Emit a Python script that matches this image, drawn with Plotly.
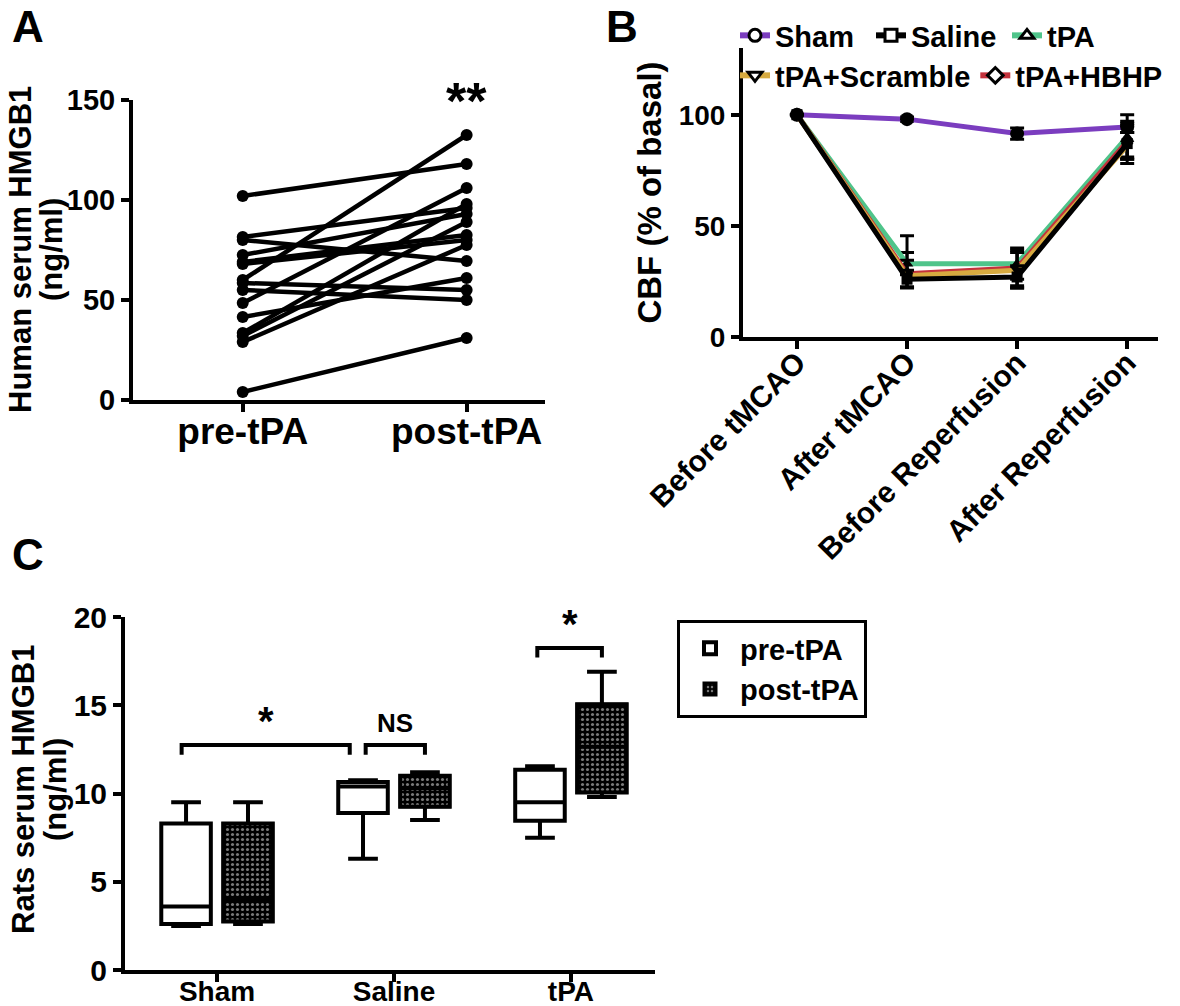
import plotly.graph_objects as go

# ---- panel A: paired human serum HMGB1 (ng/ml)
a_labels = ["pre-tPA", "post-tPA"]
a_pre = [102, 81.5, 80, 72.5, 69, 68, 60, 58.5, 55, 48.5, 41.5, 33.5, 32, 29, 4]
a_post = [118, 96, 69.5, 93, 82.5, 80, 132.5, 55, 50, 106, 61, 98, 89, 77.5, 31]

# ---- panel B: CBF (% of basal)
b_stages = ["Before tMCAO", "After tMCAO", "Before Reperfusion", "After Reperfusion"]
sham_cbf = [100, 98, 91.5, 94.5]
sham_err = [0, 1, 2.5, 2.5]
saline_cbf = [100, 26, 27, 87]
saline_err = [0, 4, 5, 9]
tpa_cbf = [100, 33, 33, 90]
tpa_err = [0, 5, 7, 10]
scramble_cbf = [100, 27.5, 30, 86]
scramble_err_up = [0, 18, 8, 6]
scramble_err_dn = [0, 5, 8, 6]
hbhp_cbf = [100, 28.5, 31, 88]
hbhp_err = [0, 6, 8, 7]

# ---- panel C: rat serum HMGB1 box plots
c_groups = ["Sham", "Saline", "tPA"]
pre_lo = [2.5, 6.3, 7.5]
pre_q1 = [2.6, 8.9, 8.45]
pre_med = [3.6, 10.4, 9.5]
pre_q3 = [8.3, 10.65, 11.35]
pre_hi = [9.5, 10.75, 11.55]
post_lo = [2.6, 8.5, 9.8]
post_q1 = [2.75, 9.25, 10.05]
post_med = [4.0, 10.3, 12.65]
post_q3 = [8.3, 11.0, 15.05]
post_hi = [9.5, 11.2, 16.9]

FONT = "Liberation Sans, Arial, sans-serif"
W, H = 1180, 1006

SHAM_C = "#7b3dbf"
TPA_C = "#4fc48a"
SCR_C = "#d6aa40"
HBHP_C = "#c4323c"

fig = go.Figure()

# A
for pre, post in zip(a_pre, a_post):
    fig.add_trace(go.Scatter(
        x=a_labels, y=[pre, post], mode="lines+markers",
        line=dict(color="black", width=4.5),
        marker=dict(color="black", size=12),
        showlegend=False, xaxis="x", yaxis="y"))

# B (plot traces, black markers)
b_series = [
    ("Sham", sham_cbf, sham_err, sham_err, SHAM_C, "circle"),
    ("tPA", tpa_cbf, tpa_err, tpa_err, TPA_C, "triangle-up"),
    ("tPA+HBHP", hbhp_cbf, hbhp_err, hbhp_err, HBHP_C, "diamond"),
    ("tPA+Scramble", scramble_cbf, scramble_err_up, scramble_err_dn, SCR_C, "triangle-down"),
    ("Saline", saline_cbf, saline_err, saline_err, "black", "square"),
]
for name, vals, eu, ed, col, sym in b_series:
    fig.add_trace(go.Scatter(
        x=b_stages, y=vals, mode="lines+markers", name=name,
        line=dict(color=col, width=5),
        marker=dict(color="black", size=14 if sym == "circle" else 11, symbol=sym),
        error_y=dict(type="data", array=eu, arrayminus=ed, color="black",
                     thickness=3, width=7),
        showlegend=False, xaxis="x2", yaxis="y2"))

# B legend entries (open markers, as in the original key)
legend_rows = [
    ("Sham", SHAM_C, "circle", "legend"),
    ("Saline", "black", "square", "legend"),
    ("tPA", TPA_C, "triangle-up", "legend"),
    ("tPA+Scramble", SCR_C, "triangle-down", "legend2"),
    ("tPA+HBHP", HBHP_C, "diamond", "legend2"),
]
for name, col, sym, lg in legend_rows:
    fig.add_trace(go.Scatter(
        x=[None], y=[None], mode="lines+markers", name=name,
        line=dict(color=col, width=6),
        marker=dict(color="white", size=12, symbol=sym,
                    line=dict(color="black", width=3)),
        legend=lg, xaxis="x2", yaxis="y2"))

# C
off, bw = 0.175, 0.28
pre_x = [i - off for i in range(len(c_groups))]
post_x = [i + off for i in range(len(c_groups))]

fig.add_trace(go.Bar(
    x=post_x, y=[q3 - q1 for q1, q3 in zip(post_q1, post_q3)], base=post_q1,
    width=bw, name="post-tPA",
    marker=dict(color="black", line=dict(color="black", width=3),
                pattern=dict(shape=".", fgcolor="#7a7a7a", bgcolor="black",
                             size=5, solidity=0.3, fillmode="replace")),
    legend="legend3", xaxis="x3", yaxis="y3"))
fig.add_trace(go.Box(
    x=pre_x, q1=pre_q1, median=pre_med, q3=pre_q3,
    lowerfence=pre_lo, upperfence=pre_hi, width=bw, whiskerwidth=0.6,
    fillcolor="white", line=dict(color="black", width=4), name="pre-tPA",
    legend="legend3", legendrank=1, xaxis="x3", yaxis="y3"))
fig.add_trace(go.Box(
    x=post_x, q1=post_q1, median=post_med, q3=post_q3,
    lowerfence=post_lo, upperfence=post_hi, width=bw, whiskerwidth=0.6,
    fillcolor="rgba(0,0,0,0)", line=dict(color="black", width=4),
    showlegend=False, xaxis="x3", yaxis="y3"))

axis_common = dict(showline=True, linewidth=4, linecolor="black", ticks="outside",
                   ticklen=8, tickwidth=4, tickcolor="black", showgrid=False,
                   zeroline=False, fixedrange=True, automargin=False)


def px_x(v):
    return v / W


def px_y(v):
    return 1 - v / H


fig.update_layout(
    width=W, height=H, margin=dict(l=0, r=0, t=0, b=0, autoexpand=False),
    paper_bgcolor="white", plot_bgcolor="white",
    font=dict(family=FONT, color="black", size=28, weight="bold"),
    barmode="overlay",
    xaxis=dict(domain=[px_x(133), px_x(545)], anchor="y", type="category",
               range=[-0.49, 1.35], tickfont=dict(size=37, weight="bold"),
               ticklabelstandoff=-12, **axis_common),
    yaxis=dict(domain=[px_y(400), px_y(100)], anchor="x", range=[0, 150], dtick=50,
               tickfont=dict(size=29, weight="bold"), **axis_common),
    xaxis2=dict(domain=[px_x(743), px_x(1158)], anchor="y2", type="category",
                range=[-0.49, 3.28], tickangle=-45, ticklabelstandoff=-16,
                tickfont=dict(size=30, weight="bold"), **axis_common),
    yaxis2=dict(domain=[px_y(337), px_y(48)], anchor="x2", range=[0, 130],
                tickvals=[0, 50, 100], tickfont=dict(size=28, weight="bold"),
                title=dict(text="CBF (% of basal)", standoff=8,
                           font=dict(size=33, weight="bold")), **axis_common),
    xaxis3=dict(domain=[px_x(125), px_x(655)], anchor="y3", range=[-0.52, 2.475],
                tickvals=list(range(len(c_groups))), ticktext=c_groups,
                ticklabelstandoff=-15,
                tickfont=dict(size=28, weight="bold"), **axis_common),
    yaxis3=dict(domain=[px_y(970), px_y(617)], anchor="x3", range=[0, 20], dtick=5,
                tickfont=dict(size=30, weight="bold"), **axis_common),
    legend=dict(orientation="h", x=px_x(735), y=px_y(10), xanchor="left", yanchor="top",
                font=dict(size=29, weight="bold"), bgcolor="rgba(0,0,0,0)",
                itemwidth=30, entrywidth=91, entrywidthmode="pixels"),
    legend2=dict(orientation="h", x=px_x(735), y=px_y(50), xanchor="left", yanchor="top",
                 font=dict(size=29, weight="bold"), bgcolor="rgba(0,0,0,0)",
                 itemwidth=30),
    legend3=dict(x=px_x(677), y=px_y(620), xanchor="left", yanchor="top",
                 font=dict(size=29, weight="bold"), bgcolor="white",
                 bordercolor="black", borderwidth=3, traceorder="normal",
                 itemwidth=50),
)

# two-line y titles of panels A and C (tight leading as in the original)
y_titles = [
    ("Human serum HMGB1", 21, 250, 31),
    ("(ng/ml)", 52, 250, 31),
    ("Rats serum HMGB1", 23, 790, 31),
    ("(ng/ml)", 55, 790, 31),
]
for txt, tx, ty, fs in y_titles:
    fig.add_annotation(x=px_x(tx), y=px_y(ty), xref="paper", yref="paper", text=txt,
                       textangle=-90, showarrow=False, xanchor="center",
                       yanchor="middle", font=dict(size=fs, weight="bold"))

# significance brackets in panel C
brackets = [(-0.2, 0.75, 12.75, 12.2, "*"), (0.84, 1.175, 12.75, 12.2, "NS"),
            (1.81, 2.175, 18.25, 17.7, "*")]
for x0, x1, ytop, ybot, label in brackets:
    fig.add_shape(type="path", xref="x3", yref="y3",
                  path=f"M{x0},{ybot} L{x0},{ytop} L{x1},{ytop} L{x1},{ybot}",
                  line=dict(color="black", width=4))
    fig.add_annotation(x=(x0 + x1) / 2, y=ytop + (0.0 if label == "*" else 0.3),
                       xref="x3", yref="y3",
                       text=label, showarrow=False, yanchor="bottom",
                       font=dict(size=40 if label == "*" else 26, weight="bold"))

fig.add_annotation(x="post-tPA", y=134, xref="x", yref="y", text="**", showarrow=False,
                   yanchor="bottom", font=dict(size=52, weight="bold"))

for letter, lx, ly in [("A", 28, 0), ("B", 622, 0), ("C", 28, 528)]:
    fig.add_annotation(x=px_x(lx), y=px_y(ly), xref="paper", yref="paper", text=letter,
                       showarrow=False, xanchor="center", yanchor="top",
                       font=dict(size=44, weight="bold"))

fig.write_html("out.html", config={"displayModeBar": False},
               post_script="document.body.style.margin='0';")
